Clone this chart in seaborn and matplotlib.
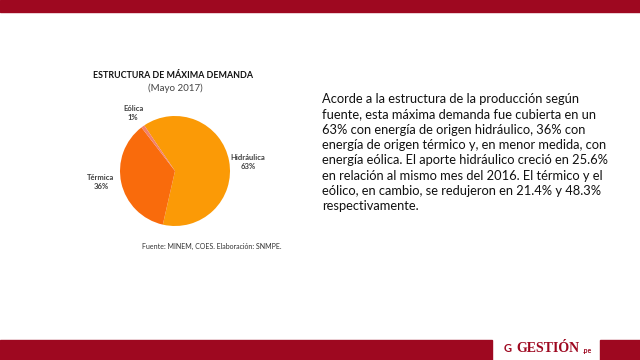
import matplotlib
matplotlib.use("Agg")
import matplotlib.pyplot as plt
import seaborn as sns
from matplotlib.patches import Rectangle

sns.set_theme(style="white")
plt.rcParams['font.family'] = ['Lato', 'DejaVu Sans']

categories = ["Hidráulica", "Térmica", "Eólica"]
values = [63, 36, 1]
pct_labels = ["63%", "36%", "1%"]
colors = ["#FB9A06", "#F96B0C", "#F0806C"]

title = "ESTRUCTURA DE MÁXIMA DEMANDA"
subtitle = "(Mayo 2017)"
source = "Fuente: MINEM, COES. Elaboración: SNMPE."
body = ("Acorde a la estructura de la producción según\n"
        "fuente, esta máxima demanda fue cubierta en un\n"
        "63% con energía de origen hidráulico, 36% con\n"
        "energía de origen térmico y, en menor medida, con\n"
        "energía eólica. El aporte hidráulico creció en 25.6%\n"
        "en relación al mismo mes del 2016. El térmico y el\n"
        "eólico, en cambio, se redujeron en 21.4% y 48.3%\n"
        "respectivamente.")

W, H = 640, 360
fig = plt.figure(figsize=(6.4, 3.6), dpi=100)
fig.patch.set_facecolor("white")

def fx(x): return x / W
def fy(y): return 1 - y / H

red = "#9E0820"
fig.patches.append(Rectangle((0, fy(12)), 1, 12 / H, transform=fig.transFigure, color=red, zorder=0))
fig.patches.append(Rectangle((0, 0), fx(492), 20 / H, transform=fig.transFigure, color=red, zorder=0))
fig.patches.append(Rectangle((fx(600), 0), 1 - fx(600), 20 / H, transform=fig.transFigure, color=red, zorder=0))

# pie
cx, cy, r = 175, 171, 55
ax = fig.add_axes([fx(cx - r), fy(cy + r), 2 * r / W, 2 * r / H])
ax.pie(values, colors=colors, startangle=124, counterclock=False,
       wedgeprops=dict(linewidth=0))
ax.set_xlim(-1, 1)
ax.set_ylim(-1, 1)
ax.set_aspect("equal")
ax.axis("off")

lab_pos = {"Hidráulica": (248, 162), "Térmica": (101, 182), "Eólica": (133, 113)}
for c, p in zip(categories, pct_labels):
    x, y = lab_pos[c]
    fig.text(fx(x), fy(y), f"{c}\n{p}", ha="center", va="center", fontsize=5.5,
             fontweight="bold", color="#404040", linespacing=1.3)

fig.text(fx(173), fy(75), title, ha="center", va="center", fontsize=6.4,
         fontweight="bold", color="#111111")
fig.text(fx(175), fy(88), subtitle, ha="center", va="center", fontsize=7,
         color="#444444")
fig.text(fx(212), fy(246), source, ha="center", va="center", fontsize=5,
         color="#333333")

fig.text(fx(322), fy(93), body, ha="left", va="top", fontsize=9.3,
         color="#111111", linespacing=1.33)

fig.text(fx(548), fy(349), "GESTIÓN", ha="center", va="center", fontsize=10,
         fontweight="bold", color=red, family=["Liberation Serif", "DejaVu Serif"])
fig.text(fx(587), fy(351), ".pe", ha="center", va="center", fontsize=5,
         fontweight="bold", color=red)
fig.text(fx(508), fy(349), "G", ha="center", va="center", fontsize=8,
         fontweight="bold", color=red)

fig.savefig("out.png", dpi=100)
